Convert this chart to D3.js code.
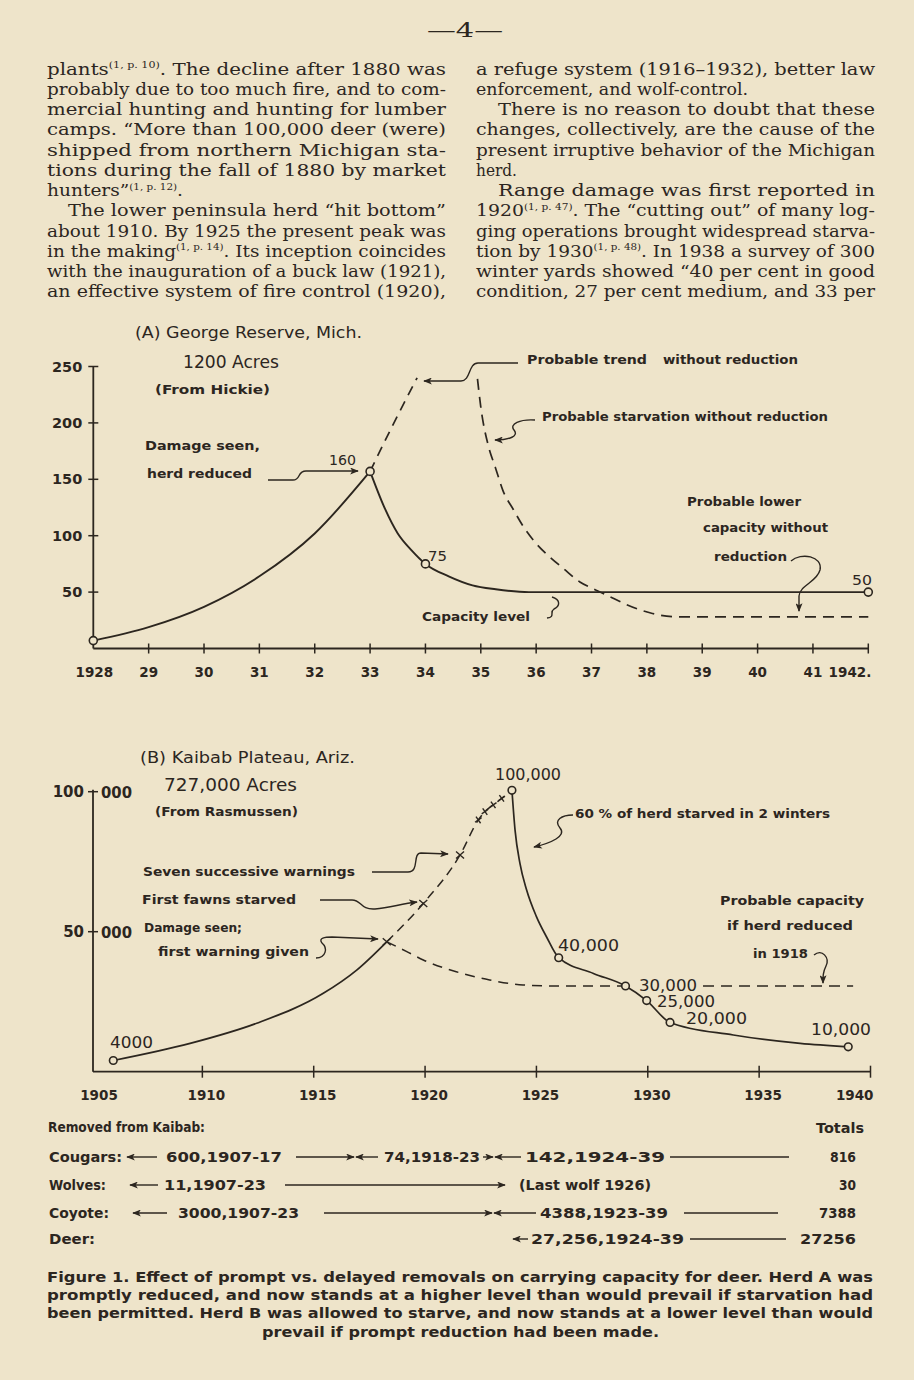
<!DOCTYPE html>
<html><head><meta charset="utf-8">
<script src="https://cdn.jsdelivr.net/npm/d3@7"></script>
<style>
html,body{margin:0;padding:0;background:#eee4ca;}
svg{display:block;}
</style></head><body>
<svg id="page" width="914" height="1380"></svg>
<script>
// ================= DATA =================
// Chart A: George Reserve (deer count by year)
const yearTicksA = [1928,1929,1930,1931,1932,1933,1934,1935,1936,1937,1938,1939,1940,1941,1942];
const yearLabelsA = ["1928","29","30","31","32","33","34","35","36","37","38","39","40","41","1942."];
const valueTicksA = [50,100,150,200,250];
const riseYearsA  = [1928,1929,1930,1931,1932,1933];
const riseValuesA = [7,19,37,64,102,157];
const fallYearsA  = [1933,1933.25,1933.5,1933.75,1934,1934.42,1934.85,1935.27,1935.87,1942];
const fallValuesA = [157,126,102,87,75,64,56,52.5,50,50];
const trendYearsA  = [1933,1933.42,1933.85];
const trendValuesA = [157,199,240];
const starveYearsA  = [1934.94,1935.0,1935.14,1935.26,1935.4,1935.59,1935.77,1936.0,1936.25,1936.49,1936.79,1937.03,1937.33,1937.63,1938.1,1938.6,1942];
const starveValuesA = [239,214,179,161,140,123,108,93,81,71,59,53,46,39,31,28,28];
const pointYearsA  = [1928,1933,1934,1942];
const pointValuesA = [7,157,75,50];

// Chart B: Kaibab Plateau
const yearTicksB = [1910,1915,1920,1925,1930,1935,1940];
const yearLabelsB = ["1905","1910","1915","1920","1925","1930","1935","1940"];
const yearLabelYearsB = [1905,1910,1915,1920,1925,1930,1935,1940];
const valueTicksB = [50000,100000];
const valueTickLabelsB = [["50","000"],["100","000"]];
const riseYearsB  = [1906,1909.45,1912.44,1915.43,1916.93,1918.28];
const riseValuesB = [4000,10100,17300,28000,36300,46400];
const warnYearsB  = [1918.28,1919.92,1921.57,1922.39,1922.69,1923.06,1923.44,1923.9];
const warnValuesB = [46400,60100,77400,89900,92900,95300,97600,100500];
const fallYearsB  = [1923.9,1924.04,1924.26,1924.56,1925.0,1925.45,1926,1927.56,1929,1929.95,1931,1933.84,1936.84,1939];
const fallValuesB = [100500,86300,74400,64900,55400,48200,40700,35100,30600,25400,17600,13100,10100,8900];
const capYearsB  = [1918.28,1919.18,1919.92,1921.4,1922.9,1924.4,1926,1929];
const capValuesB = [46400,42900,39900,35700,32750,31000,30600,30600];
const capTailYearsB  = [1932.48,1939.22];
const capTailValuesB = [30600,30600];
const pointYearsB  = [1906,1923.9,1926,1929,1929.95,1931,1939];
const pointValuesB = [4000,100500,40700,30600,25400,17600,8900];
const crossIndexB = [0,1,2];      // "x" marks on warning path
const plusIndexB  = [3,4,5,6];    // "++++" marks

// Removals table
const tableRows = ["Cougars:","Wolves:","Coyote:","Deer:"];
const tableTotals = ["816","30","7388","27256"];

// ================= DRAWING =================
const INK = "#2c261f";
const PAPER = "#eee4ca";
const SANS = "'DejaVu Sans', sans-serif";
const SERIF = "'DejaVu Serif', serif";
const svg = d3.select("#page");
svg.append("rect").attr("width",914).attr("height",1380).attr("fill",PAPER);

const defs = svg.append("defs");
defs.append("marker").attr("id","ah").attr("viewBox","0 0 10 8").attr("refX",9).attr("refY",4)
  .attr("markerUnits","userSpaceOnUse").attr("markerWidth",9).attr("markerHeight",7).attr("orient","auto")
  .append("path").attr("d","M0,0 L10,4 L0,8 L2.5,4 Z").attr("fill",INK);

function rich(el, str){
  const parts = str.split("^");
  parts.forEach((p,i)=>{
    if(!p) return;
    if(i%2===1){ el.append("tspan").attr("font-size",9.5).attr("dy",-6.5).text(p); }
    else { const ts = el.append("tspan").text(p); if(i>0) ts.attr("dy",6.5); }
  });
}
function T(g, t, o){
  const el = g.append("text").attr("x",o.x).attr("y",o.y).attr("dy",o.dy===undefined?"0.35em":o.dy)
    .attr("font-family",o.f||SANS).attr("font-size",o.s||12.5).attr("font-weight",o.w||"normal")
    .attr("fill",INK).attr("text-anchor",o.a||"start");
  if(o.x2!==undefined) el.attr("textLength",o.x2-o.x).attr("lengthAdjust","spacingAndGlyphs");
  rich(el,t);
  return el;
}
function P(g, d, arrow, w){
  const p = g.append("path").attr("d",d).attr("fill","none").attr("stroke",INK).attr("stroke-width",w||1.4);
  if(arrow) p.attr("marker-end","url(#ah)");
  return p;
}
const zip = (a,b)=>a.map((v,i)=>[v,b[i]]);

// ---------- Page header & body text ----------
const page = svg.append("g");
T(page,"—4—",{x:427,x2:503,y:30,s:20,f:SERIF});

const leftLines = [
 ["plants^(1, p. 10)^. The decline after 1880 was",47,446],
 ["probably due to too much fire, and to com-",47,446],
 ["mercial hunting and hunting for lumber",47,446],
 ["camps. “More than 100,000 deer (were)",47,446],
 ["shipped from northern Michigan sta-",47,446],
 ["tions during the fall of 1880 by market",47,446],
 ["hunters”^(1, p. 12)^.",47,183],
 ["The lower peninsula herd “hit bottom”",68,446],
 ["about 1910. By 1925 the present peak was",47,446],
 ["in the making^(1, p. 14)^. Its inception coincides",47,446],
 ["with the inauguration of a buck law (1921),",47,446],
 ["an effective system of fire control (1920),",47,446]
];
const rightLines = [
 ["a refuge system (1916–1932), better law",476,875],
 ["enforcement, and wolf-control.",476,748],
 ["There is no reason to doubt that these",498,875],
 ["changes, collectively, are the cause of the",476,875],
 ["present irruptive behavior of the Michigan",476,875],
 ["herd.",476,517],
 ["Range damage was first reported in",498,875],
 ["1920^(1, p. 47)^. The “cutting out” of many log-",476,875],
 ["ging operations brought widespread starva-",476,875],
 ["tion by 1930^(1, p. 48)^. In 1938 a survey of 300",476,875],
 ["winter yards showed “40 per cent in good",476,875],
 ["condition, 27 per cent medium, and 33 per",476,875]
];
[leftLines,rightLines].forEach(col=>col.forEach((l,i)=>{
  T(page,l[0],{x:l[1],x2:l[2],y:74.5+i*20.25,dy:0,s:17,f:SERIF});
}));

// ---------- Chart A ----------
const gA = svg.append("g");
const xA = d3.scaleLinear().domain([1928,1942]).range([93.3,868.3]);
const yA = d3.scaleLinear().domain([0,250]).range([648.5,366.5]);
gA.append("line").attr("x1",xA(1928)).attr("x2",xA(1942)).attr("y1",yA(0)).attr("y2",yA(0)).attr("stroke",INK).attr("stroke-width",1.8);
gA.append("line").attr("x1",xA(1928)).attr("x2",xA(1928)).attr("y1",yA(0)).attr("y2",yA(250)).attr("stroke",INK).attr("stroke-width",1.8);
yearTicksA.slice(1).forEach(yr=>{
  gA.append("line").attr("x1",xA(yr)).attr("x2",xA(yr)).attr("y1",yA(0)-5).attr("y2",yA(0)+5).attr("stroke",INK).attr("stroke-width",1.5);
});
valueTicksA.forEach(v=>{
  gA.append("line").attr("x1",xA(1928)-5).attr("x2",xA(1928)+5).attr("y1",yA(v)).attr("y2",yA(v)).attr("stroke",INK).attr("stroke-width",1.5);
  T(gA,String(v),{x:xA(1928)-11,y:yA(v),s:14.5,w:"bold",a:"end"});
});
yearTicksA.forEach((yr,i)=>{
  const last = i===yearTicksA.length-1;
  T(gA,yearLabelsA[i],{x:last?xA(yr)+3:xA(yr)+(i===0?1:0),y:672,s:13.5,w:"bold",a:last?"end":"middle"});
});
const lineA = d3.line().x(d=>xA(d[0])).y(d=>yA(d[1])).curve(d3.curveMonotoneX);
gA.append("path").attr("d",lineA(zip(riseYearsA,riseValuesA))).attr("fill","none").attr("stroke",INK).attr("stroke-width",1.9);
gA.append("path").attr("d",lineA(zip(fallYearsA,fallValuesA))).attr("fill","none").attr("stroke",INK).attr("stroke-width",1.9);
gA.append("path").attr("d",lineA(zip(trendYearsA,trendValuesA))).attr("fill","none").attr("stroke",INK).attr("stroke-width",1.7).attr("stroke-dasharray","10,7");
gA.append("path").attr("d",lineA(zip(starveYearsA,starveValuesA))).attr("fill","none").attr("stroke",INK).attr("stroke-width",1.7).attr("stroke-dasharray","11,7");
zip(pointYearsA,pointValuesA).forEach(d=>{
  gA.append("circle").attr("cx",xA(d[0])).attr("cy",yA(d[1])).attr("r",4).attr("fill",PAPER).attr("stroke",INK).attr("stroke-width",1.6);
});
T(gA,"(A) George Reserve, Mich.",{x:135,x2:362,y:332,s:16});
T(gA,"1200 Acres",{x:183,x2:279,y:362,s:17});
T(gA,"(From Hickie)",{x:155,x2:270,y:390,s:12,w:"bold"});
T(gA,"Damage seen,",{x:145,x2:260,y:446,s:12.5,w:"bold"});
T(gA,"herd reduced",{x:147,x2:252,y:474,s:12.5,w:"bold"});
T(gA,"160",{x:329,x2:356,y:460,s:14});
T(gA,"75",{x:428,x2:447,y:556,s:14});
T(gA,"50",{x:852,x2:872,y:580,s:14});
T(gA,"Capacity level",{x:422,x2:530,y:617,s:12.5,w:"bold"});
T(gA,"Probable  trend",{x:527,x2:647,y:360,s:12.5,w:"bold"});
T(gA,"without reduction",{x:663,x2:798,y:360,s:12.5,w:"bold"});
T(gA,"Probable starvation without reduction",{x:542,x2:828,y:417,s:12.5,w:"bold"});
T(gA,"Probable lower",{x:687,x2:801,y:502,s:12.5,w:"bold"});
T(gA,"capacity without",{x:703,x2:828,y:528,s:12.5,w:"bold"});
T(gA,"reduction",{x:714,x2:787,y:557,s:12.5,w:"bold"});
P(gA,"M268,480 L293,480 C301,480 297,471 306,471 L358,471",true);
P(gA,"M518,363 L478,363 C468,363 471,381 461,381 L424,381",true);
P(gA,"M535,420 C520,419 509,424 514,430 C519,436 510,440 495,440",true);
P(gA,"M552,597 C561,600 560,606 554,609 C549,612 556,617 547,618",false);
P(gA,"M791,561 C801,552 823,556 820,570 C817,582 800,585 799,596 L799,611",true);

// ---------- Chart B ----------
const gB = svg.append("g");
const xB = d3.scaleLinear().domain([1905,1940]).range([91,870.5]);
const yB = d3.scaleLinear().domain([0,100000]).range([1071.7,791.7]);
const axisXB = xB(1905)+2;
gB.append("line").attr("x1",axisXB).attr("x2",xB(1940)).attr("y1",yB(0)).attr("y2",yB(0)).attr("stroke",INK).attr("stroke-width",1.8);
gB.append("line").attr("x1",axisXB).attr("x2",axisXB).attr("y1",yB(0)).attr("y2",yB(100000)-2).attr("stroke",INK).attr("stroke-width",1.8);
yearTicksB.forEach(yr=>{
  gB.append("line").attr("x1",xB(yr)).attr("x2",xB(yr)).attr("y1",yB(0)-6).attr("y2",yB(0)+6).attr("stroke",INK).attr("stroke-width",1.5);
});
yearLabelYearsB.forEach((yr,i)=>{
  const last = i===yearLabelYearsB.length-1;
  T(gB,yearLabelsB[i],{x:last?xB(yr)+3:xB(yr)+(i===0?8:4),y:1095,s:13.5,w:"bold",a:last?"end":"middle"});
});
valueTicksB.forEach((v,i)=>{
  gB.append("line").attr("x1",axisXB-5).attr("x2",axisXB+5).attr("y1",yB(v)).attr("y2",yB(v)).attr("stroke",INK).attr("stroke-width",1.5);
  T(gB,valueTickLabelsB[i][0],{x:axisXB-9,y:yB(v),s:15,w:"bold",a:"end"});
  T(gB,valueTickLabelsB[i][1],{x:axisXB+8,x2:axisXB+39,y:yB(v)+1,s:15,w:"bold"});
});
const lineB = d3.line().x(d=>xB(d[0])).y(d=>yB(d[1])).curve(d3.curveMonotoneX);
gB.append("path").attr("d",lineB(zip(riseYearsB,riseValuesB))).attr("fill","none").attr("stroke",INK).attr("stroke-width",1.7);
gB.append("path").attr("d",lineB(zip(warnYearsB,warnValuesB))).attr("fill","none").attr("stroke",INK).attr("stroke-width",1.5).attr("stroke-dasharray","9,6");
gB.append("path").attr("d",lineB(zip(fallYearsB,fallValuesB))).attr("fill","none").attr("stroke",INK).attr("stroke-width",1.7);
gB.append("path").attr("d",lineB(zip(capYearsB,capValuesB))).attr("fill","none").attr("stroke",INK).attr("stroke-width",1.5).attr("stroke-dasharray","10,7");
gB.append("path").attr("d",lineB(zip(capTailYearsB,capTailValuesB))).attr("fill","none").attr("stroke",INK).attr("stroke-width",1.5).attr("stroke-dasharray","11,7");
crossIndexB.forEach(i=>{
  const cx=xB(warnYearsB[i]), cy=yB(warnValuesB[i]);
  gB.append("path").attr("d",`M${cx-4},${cy-3.5} L${cx+4},${cy+3.5} M${cx-4},${cy+3.5} L${cx+4},${cy-3.5}`).attr("stroke",INK).attr("stroke-width",1.4);
});
plusIndexB.forEach(i=>{
  const cx=xB(warnYearsB[i]), cy=yB(warnValuesB[i]);
  gB.append("path").attr("d",`M${cx-4},${cy} L${cx+4},${cy} M${cx},${cy-4} L${cx},${cy+4}`).attr("transform",`rotate(-35,${cx},${cy})`).attr("stroke",INK).attr("stroke-width",1.4);
});
zip(pointYearsB,pointValuesB).forEach(d=>{
  gB.append("circle").attr("cx",xB(d[0])).attr("cy",yB(d[1])).attr("r",3.8).attr("fill",PAPER).attr("stroke",INK).attr("stroke-width",1.6);
});
T(gB,"(B) Kaibab Plateau, Ariz.",{x:140,x2:355,y:757,s:16});
T(gB,"727,000 Acres",{x:164,x2:297,y:785,s:17});
T(gB,"(From Rasmussen)",{x:155,x2:298,y:812,s:12,w:"bold"});
T(gB,"Seven successive warnings",{x:143,x2:355,y:872,s:12.5,w:"bold"});
T(gB,"First fawns starved",{x:142,x2:296,y:900,s:12.5,w:"bold"});
T(gB,"Damage seen;",{x:144,x2:242,y:928,s:12.5,w:"bold"});
T(gB,"first warning given",{x:158,x2:309,y:952,s:12.5,w:"bold"});
T(gB,"4000",{x:110,x2:153,y:1043,s:15});
T(gB,"100,000",{x:495,x2:561,y:775,s:15});
T(gB,"60 % of herd starved in 2 winters",{x:575,x2:830,y:814,s:12.5,w:"bold"});
T(gB,"Probable capacity",{x:720,x2:864,y:901,s:12.5,w:"bold"});
T(gB,"if herd reduced",{x:727,x2:853,y:926,s:12.5,w:"bold"});
T(gB,"in 1918",{x:753,x2:808,y:954,s:12.5,w:"bold"});
T(gB,"40,000",{x:558,x2:619,y:946,s:15});
T(gB,"30,000",{x:639,x2:697,y:986,s:15});
T(gB,"25,000",{x:657,x2:715,y:1002,s:15});
T(gB,"20,000",{x:686,x2:747,y:1019,s:15});
T(gB,"10,000",{x:811,x2:871,y:1030,s:15});
P(gB,"M372,872 L408,872 C420,872 412,853 421,853 L448,854",true);
P(gB,"M320,900 L352,900 C362,900 360,910 375,909 C390,908 400,904 417,902",true);
P(gB,"M316,958 C326,958 328,948 322,943 C318,938 325,937 332,937 L378,939",true);
P(gB,"M573,815 C562,815 553,820 560,828 C567,836 551,843 534,847",true);
P(gB,"M814,955 C822,948 830,958 826,966 C823,972 823,976 823,983",true);

// ---------- Removals table ----------
const gT = svg.append("g");
const TS = 14;
T(gT,"Removed from Kaibab:",{x:48,x2:205,y:1127,s:TS,w:"bold"});
T(gT,"Totals",{x:816,x2:864,y:1128,s:TS,w:"bold"});
const rowY = [1157,1185,1213,1239];
const rowLabelX2 = [122,106,109,95];
tableRows.forEach((r,i)=>T(gT,r,{x:49,x2:rowLabelX2[i],y:rowY[i],s:TS,w:"bold"}));
const totalX1 = [830,839,819,800];
tableTotals.forEach((t,i)=>T(gT,t,{x:totalX1[i],x2:856,y:rowY[i],s:TS,w:"bold"}));
P(gT,`M157,${rowY[0]} L127,${rowY[0]}`,true);
T(gT,"600,1907-17",{x:166,x2:282,y:rowY[0],s:TS,w:"bold"});
P(gT,`M296,${rowY[0]} L354,${rowY[0]}`,true);
P(gT,`M378,${rowY[0]} L356,${rowY[0]}`,true);
T(gT,"74,1918-23",{x:384,x2:480,y:rowY[0],s:TS,w:"bold"});
P(gT,`M483,${rowY[0]} L493,${rowY[0]}`,true);
P(gT,`M521,${rowY[0]} L495,${rowY[0]}`,true);
T(gT,"142,1924-39",{x:525,x2:665,y:rowY[0],s:TS,w:"bold"});
P(gT,`M670,${rowY[0]} L789,${rowY[0]}`,false);
P(gT,`M158,${rowY[1]} L130,${rowY[1]}`,true);
T(gT,"11,1907-23",{x:164,x2:266,y:rowY[1],s:TS,w:"bold"});
P(gT,`M285,${rowY[1]} L505,${rowY[1]}`,true);
T(gT,"(Last wolf 1926)",{x:519,x2:651,y:rowY[1],s:TS,w:"bold"});
P(gT,`M167,${rowY[2]} L133,${rowY[2]}`,true);
T(gT,"3000,1907-23",{x:178,x2:299,y:rowY[2],s:TS,w:"bold"});
P(gT,`M324,${rowY[2]} L492,${rowY[2]}`,true);
P(gT,`M536,${rowY[2]} L494,${rowY[2]}`,true);
T(gT,"4388,1923-39",{x:540,x2:668,y:rowY[2],s:TS,w:"bold"});
P(gT,`M684,${rowY[2]} L778,${rowY[2]}`,false);
P(gT,`M528,${rowY[3]} L513,${rowY[3]}`,true);
T(gT,"27,256,1924-39",{x:531,x2:684,y:rowY[3],s:TS,w:"bold"});
P(gT,`M690,${rowY[3]} L786,${rowY[3]}`,false);

// ---------- Caption ----------
const gC = svg.append("g");
const capLines = [
 ["Figure 1. Effect of prompt vs. delayed removals on carrying capacity for deer. Herd A was",47,873],
 ["promptly reduced, and now stands at a higher level than would prevail if starvation had",47,873],
 ["been permitted. Herd B was allowed to starve, and now stands at a lower level than would",47,873],
 ["prevail if prompt reduction had been made.",262,659]
];
capLines.forEach((l,i)=>T(gC,l[0],{x:l[1],x2:l[2],y:1277+i*18.2,s:14.5,w:"bold"}));
</script>
</body></html>
